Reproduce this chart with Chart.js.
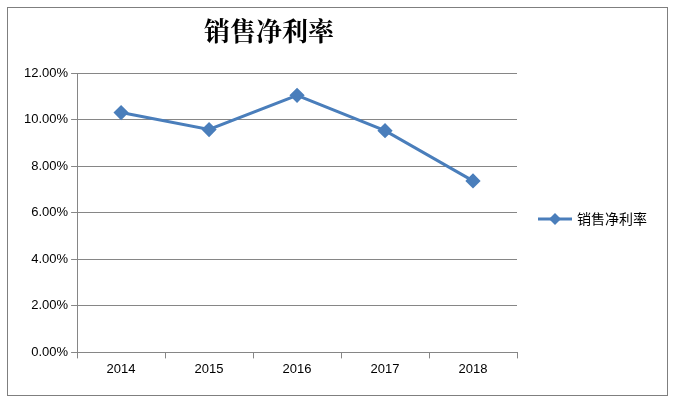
<!DOCTYPE html>
<html><head><meta charset="utf-8">
<script src="https://cdn.jsdelivr.net/npm/chart.js@4"></script>
<style>html,body{margin:0;padding:0;background:#fff}#w{width:683px;height:407px}</style>
</head><body><div id="w"><canvas id="c"></canvas></div>
<script>
const categories=['2014','2015','2016','2017','2018'];
const seriesName='销售净利率';
const values=[0.1031,0.0958,0.1105,0.0953,0.0737];
const frame={id:'frame',beforeDraw(ch){const x=ch.ctx;x.save();x.strokeStyle='#7f7f7f';x.lineWidth=1;x.strokeRect(7.5,7.5,660,388);x.restore();},
afterDraw(ch){const x=ch.ctx;x.save();const y=219;x.strokeStyle='#4a7ebb';x.lineWidth=3;x.beginPath();x.moveTo(538,y);x.lineTo(572,y);x.stroke();
x.fillStyle='#4a7ebb';x.beginPath();x.moveTo(555,y-6);x.lineTo(561,y);x.lineTo(555,y+6);x.lineTo(549,y);x.closePath();x.fill();
x.fillStyle='#000';x.font='14px "Noto Sans CJK SC"';x.textBaseline='middle';x.fillText(seriesName,577,y);x.restore();}};
new Chart(document.getElementById('c'),{type:'line',
data:{labels:categories,datasets:[{label:seriesName,data:values,borderColor:'#4a7ebb',backgroundColor:'#4a7ebb',borderWidth:3,pointStyle:'rectRot',pointRadius:5.5,pointHoverRadius:5.5,tension:0}]},
options:{animation:false,responsive:true,maintainAspectRatio:false,devicePixelRatio:1,
layout:{padding:{left:21,right:166,top:12,bottom:27}},
plugins:{title:{display:true,text:seriesName,color:'#000',font:{family:'Noto Serif CJK SC, Noto Sans CJK SC',size:26,weight:'bold'},padding:{top:4,bottom:26}},
legend:{display:false},tooltip:{enabled:false}},
scales:{x:{offset:true,grid:{offset:true,drawOnChartArea:false,color:'#868686',tickLength:6},border:{color:'#868686'},ticks:{color:'#000',font:{family:'Liberation Sans',size:13}}},
y:{min:0,max:0.12,ticks:{stepSize:0.02,color:'#000',font:{family:'Liberation Sans',size:13},callback:v=>(v*100).toFixed(2)+'%'},grid:{color:'#868686',tickLength:6},border:{color:'#868686'}}}},
plugins:[frame]});
</script></body></html>
